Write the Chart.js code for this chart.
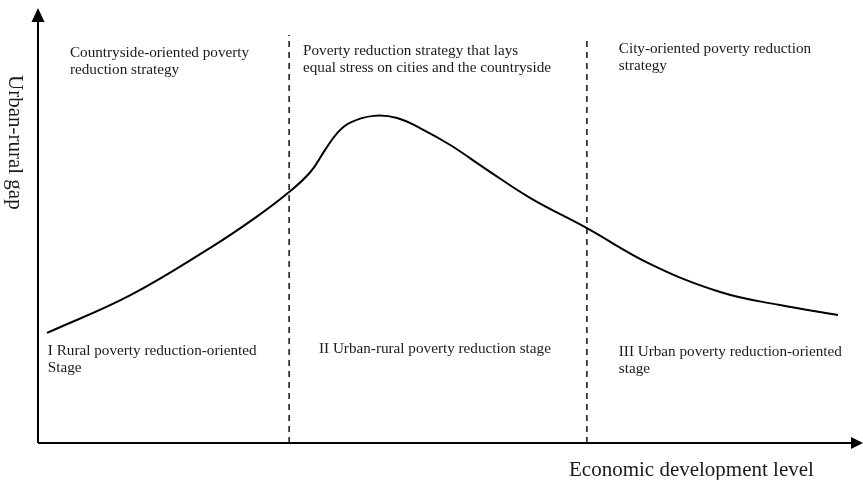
<!DOCTYPE html>
<html>
<head>
<meta charset="utf-8">
<script src="https://cdn.jsdelivr.net/npm/chart.js@4/dist/chart.umd.min.js"></script>
<style>
  html, body { margin: 0; padding: 0; background: #ffffff; }
  #wrap { width: 863px; height: 480px; position: relative; }
</style>
</head>
<body>
<div id="wrap"><canvas id="c" width="863" height="480"></canvas></div>
<script>
// ---- data (economic development level vs urban-rural gap, arbitrary units 0-100) ----
const devLevel = [1.1, 11.3, 21.0, 26.5, 30.7, 33.3, 35.1, 36.6, 38.1, 41.0, 43.9, 47.1, 50.4, 54.9, 60.2, 67.1, 74.8, 83.4, 90.7, 97.8];
const ruralGap = [25.3, 34.0, 44.8, 51.7, 57.7, 62.3, 67.4, 71.3, 73.6, 75.2, 74.7, 72.0, 68.5, 62.8, 56.3, 49.4, 41.2, 34.7, 31.7, 29.4];
const stageBounds = [30.7, 67.1];
const stageBoundTops = [93.8, 92.6];
const strategyLabels = [
  ["Countryside-oriented poverty", "reduction strategy"],
  ["Poverty reduction strategy that lays", "equal stress on cities and the countryside"],
  ["City-oriented poverty reduction", "strategy"]
];
const stageLabels = [
  ["I Rural poverty reduction-oriented", "Stage"],
  ["II Urban-rural poverty reduction stage"],
  ["III Urban poverty reduction-oriented", "stage"]
];
const xAxisTitle = "Economic development level";
const yAxisTitle = "Urban-rural gap";

// ---- layout of annotations (data units) ----
const strategyPos = [[3.9, 88.7], [32.4, 89.2], [71.0, 89.7]];
const stagePos = [[1.2, 20.2], [34.35, 20.7], [71.0, 20.0]];

const curve = devLevel.map((x, i) => ({ x: x, y: ruralGap[i] }));
const dividerSets = stageBounds.map((x, i) => ({
  data: [{ x: x, y: 0 }, { x: x, y: stageBoundTops[i] }],
  borderColor: '#111',
  borderWidth: 1.5,
  borderDash: [6, 5],
  pointRadius: 0,
  tension: 0,
  fill: false
}));

const FONT = '"Liberation Serif", "Times New Roman", serif';

const decor = {
  id: 'decor',
  afterDatasetsDraw(chart) {
    const ctx = chart.ctx;
    const a = chart.chartArea;
    const xs = chart.scales.x, ys = chart.scales.y;
    ctx.save();
    // axes
    ctx.strokeStyle = '#000';
    ctx.fillStyle = '#000';
    ctx.lineWidth = 2;
    ctx.beginPath();
    ctx.moveTo(a.left, a.bottom);
    ctx.lineTo(a.left, a.top + 10);
    ctx.moveTo(a.left, a.bottom);
    ctx.lineTo(a.right - 2, a.bottom);
    ctx.stroke();
    // arrow heads
    ctx.beginPath();
    ctx.moveTo(a.left, a.top);
    ctx.lineTo(a.left - 6.5, a.top + 14);
    ctx.lineTo(a.left + 6.5, a.top + 14);
    ctx.closePath();
    ctx.fill();
    ctx.beginPath();
    ctx.moveTo(a.right + 7, a.bottom);
    ctx.lineTo(a.right - 5, a.bottom - 6);
    ctx.lineTo(a.right - 5, a.bottom + 6);
    ctx.closePath();
    ctx.fill();

    // annotation texts
    ctx.fillStyle = '#1a1a1a';
    ctx.font = '15.2px ' + FONT;
    ctx.textAlign = 'left';
    ctx.textBaseline = 'alphabetic';
    const drawBlock = (lines, pos) => {
      const px = xs.getPixelForValue(pos[0]);
      const py = ys.getPixelForValue(pos[1]);
      lines.forEach((t, i) => ctx.fillText(t, px, py + i * 17));
    };
    strategyLabels.forEach((l, i) => drawBlock(l, strategyPos[i]));
    stageLabels.forEach((l, i) => drawBlock(l, stagePos[i]));

    // axis titles
    ctx.font = '21px ' + FONT;
    ctx.fillText(xAxisTitle, 569, 476);
    ctx.translate(9, 75);
    ctx.rotate(Math.PI / 2);
    ctx.fillText(yAxisTitle, 0, 0);
    ctx.restore();
  }
};

new Chart(document.getElementById('c'), {
  type: 'line',
  data: {
    datasets: [
      {
        data: curve,
        borderColor: '#000',
        borderWidth: 2,
        pointRadius: 0,
        tension: 0.4,
        fill: false
      },
      ...dividerSets
    ]
  },
  options: {
    responsive: false,
    animation: false,
    layout: { padding: { left: 38, top: 8, right: 7, bottom: 37 } },
    plugins: { legend: { display: false }, tooltip: { enabled: false } },
    scales: {
      x: { type: 'linear', min: 0, max: 100, display: false },
      y: { type: 'linear', min: 0, max: 100, display: false }
    }
  },
  plugins: [decor]
});
</script>
</body>
</html>
